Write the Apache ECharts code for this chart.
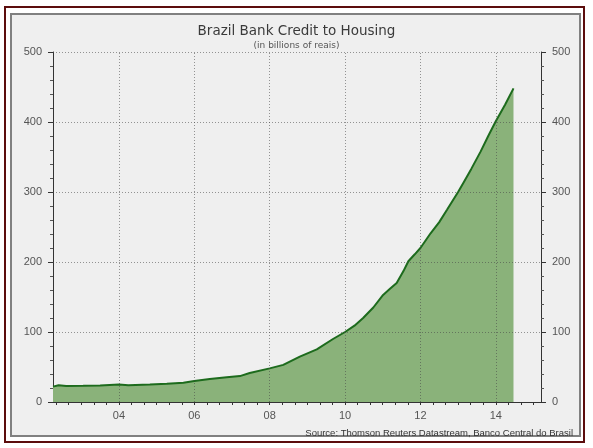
<!DOCTYPE html>
<html>
<head>
<meta charset="utf-8">
<script src="https://cdn.jsdelivr.net/npm/echarts@6/dist/echarts.min.js"></script>
<style>
html,body{margin:0;padding:0;background:#ffffff;}
#chart{width:593px;height:448px;}
</style>
</head>
<body>
<div id="chart"></div>
<script>
// Data (year, billions of reais)
const years = [2002.25, 2002.4, 2002.6, 2003.05, 2003.5, 2004.0, 2004.25, 2004.82, 2005.27, 2005.71,
  2006.0, 2006.41, 2006.86, 2007.21, 2007.47, 2008.0, 2008.36, 2008.8, 2009.25, 2009.68,
  2010.0, 2010.25, 2010.48, 2010.75, 2011.01, 2011.2, 2011.37, 2011.55, 2011.68, 2011.85,
  2012.0, 2012.27, 2012.5, 2012.71, 2013.0, 2013.15, 2013.35, 2013.6, 2013.8, 2014.0,
  2014.25, 2014.47];
const credit = [22, 24, 23, 23.3, 23.7, 25, 24, 25, 26, 27.6,
  30, 32.9, 35.2, 37, 41.4, 48, 53, 64.8, 75.2, 90,
  100, 109, 120, 135, 153, 162, 170, 187, 201, 211,
  220, 241, 257, 275, 300, 314, 333, 358, 380, 401,
  425, 448];
const xLabelYears = [2004, 2006, 2008, 2010, 2012, 2014];
const yTicks = [100, 200, 300, 400, 500];
const titleText = 'Brazil Bank Credit to Housing';
const subtitleText = '(in billions of reais)';
const sourceText = 'Source: Thomson Reuters Datastream, Banco Central do Brasil';

const xMin = 2002.25, xMax = 2015.2;
const minorTickYears = [];
for (let k = 0; k <= 39; k++) {
  const v = 2002 + (k + 1) / 3;
  if (v > xMin && v < xMax) minorTickYears.push(+v.toFixed(4));
}

const seriesData = years.map((y, i) => [y, credit[i]]);
const gridStyle = {color: 'rgba(70,70,70,0.55)', type: [1, 2], width: 1};
const markLineData = xLabelYears.map(y => ({xAxis: y})).concat(yTicks.map(v => ({yAxis: v})));

const chart = echarts.init(document.getElementById('chart'));
const labelFont = {color: '#555', fontSize: 11, fontFamily: 'Liberation Sans'};
const yAxisCommon = {
  type: 'value', min: 0, max: 500, interval: 100,
  axisLine: {show: true, lineStyle: {color: '#333', width: 1}},
  axisTick: {show: true, inside: false, length: 5, lineStyle: {color: '#333'}},
  minorTick: {show: true, splitNumber: 5, length: 3, lineStyle: {color: '#555'}},
  splitLine: {show: false},
  axisLabel: Object.assign({margin: 11}, labelFont)
};
chart.setOption({
  animation: false,
  backgroundColor: 'transparent',
  graphic: [
    {type: 'rect', z: -10, shape: {x: 5, y: 7, width: 579, height: 435},
      style: {fill: '#ffffff', stroke: '#5c0d0d', lineWidth: 2}},
    {type: 'rect', z: -9, shape: {x: 11, y: 14, width: 569, height: 422},
      style: {fill: '#efefef', stroke: '#808080', lineWidth: 2}}
  ],
  title: [
    {text: titleText, left: 'center', top: 19,
      textStyle: {fontFamily: 'DejaVu Sans', fontSize: 13.5, fontWeight: 'normal', color: '#3a3a3a'}},
    {text: subtitleText, left: 'center', top: 36,
      textStyle: {fontFamily: 'DejaVu Sans', fontSize: 9, fontWeight: 'normal', color: '#555'}},
    {text: sourceText, right: 15, top: 423,
      textStyle: {fontFamily: 'Liberation Sans', fontSize: 9.5, fontWeight: 'normal', color: '#333'}}
  ],
  grid: {left: 53, right: 52, top: 52, bottom: 46, containLabel: false},
  xAxis: {
    type: 'value', min: xMin, max: xMax,
    axisLine: {show: true, onZero: false, lineStyle: {color: '#333', width: 1}},
    axisTick: {show: true, length: 3, customValues: minorTickYears, lineStyle: {color: '#333'}},
    splitLine: {show: false},
    axisLabel: Object.assign({
      margin: 8, customValues: xLabelYears,
      formatter: v => String(Math.round(v) % 100).padStart(2, '0')
    }, labelFont)
  },
  yAxis: [
    Object.assign({position: 'left'}, yAxisCommon),
    Object.assign({position: 'right'}, yAxisCommon)
  ],
  series: [{
    type: 'line',
    data: seriesData,
    yAxisIndex: 0,
    showSymbol: false,
    smooth: false,
    lineStyle: {color: '#1d6b1d', width: 2},
    areaStyle: {color: '#8ab27a', opacity: 1},
    markLine: {
      silent: true, symbol: 'none', label: {show: false},
      lineStyle: gridStyle,
      data: markLineData
    }
  }]
});
</script>
</body>
</html>
